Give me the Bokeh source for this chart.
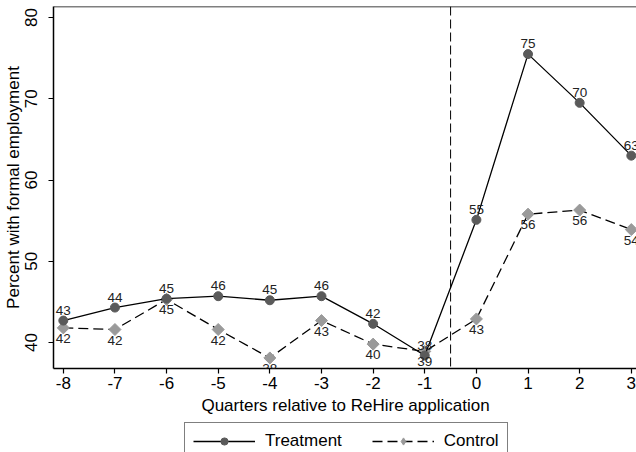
import numpy as np
from bokeh.plotting import figure
from bokeh.layouts import column
from bokeh.models import (Range1d, Span, Legend, LegendItem, ColumnDataSource,
                          FixedTicker, LabelSet)
from bokeh.core.properties import value
from bokeh.embed import file_html
from bokeh.resources import INLINE

quarters = [-8, -7, -6, -5, -4, -3, -2, -1, 0, 1, 2, 3]
treatment = [42.7, 44.3, 45.4, 45.7, 45.2, 45.7, 42.3, 38.4, 55.1, 75.5, 69.5, 63.0]
control = [41.8, 41.6, 45.3, 41.6, 38.1, 42.7, 39.8, 38.9, 42.9, 55.8, 56.3, 53.9]
treatment_labels = ["43", "44", "45", "46", "45", "46", "42", "38", "55", "75", "70", "63"]
control_labels = ["42", "42", "45", "42", "38", "43", "40", "39", "43", "56", "56", "54"]
x_ticks = [-8, -7, -6, -5, -4, -3, -2, -1, 0, 1, 2, 3]
y_ticks = [40, 50, 60, 70, 80]
event_x = -0.5

FONT = "Liberation Sans"
FS = "17px"
T_STYLE = dict(line_color="black", line_width=1.3)
C_STYLE = dict(line_color="black", line_width=1.3, line_dash="10 5")
T_MARK = dict(marker="circle", size=9, fill_color="#5a5a5a", line_color="#5a5a5a")
C_MARK = dict(marker="square", angle=np.pi / 4, size=8.5, fill_color="#9a9a9a",
              line_color="#9a9a9a")

y_lo, y_hi = 36.8, 81.36
p = figure(frame_width=584, frame_height=362, output_backend="svg", toolbar_location=None,
           x_range=Range1d(-8.19, 3.12), y_range=Range1d(y_lo, y_hi),
           min_border_top=6, min_border_right=0, min_border_left=52,
           min_border_bottom=52)
p.outline_line_color = None
p.xgrid.visible = False
p.ygrid.visible = False
p.background_fill_color = "white"

for ax in (p.xaxis[0], p.yaxis[0]):
    ax.axis_line_color = "black"
    ax.axis_line_width = 1.5
    ax.major_tick_line_color = "black"
    ax.major_tick_line_width = 1.2
    ax.major_tick_out = 5
    ax.major_tick_in = 0
    ax.minor_tick_line_color = None
    ax.major_label_text_font = FONT
    ax.major_label_text_font_size = FS
    ax.major_label_text_color = "black"
    ax.axis_label_text_font = FONT
    ax.axis_label_text_font_size = FS
    ax.axis_label_text_font_style = "normal"
    ax.axis_label_text_color = "black"

p.xaxis.major_label_standoff = 3
p.xaxis.axis_label_standoff = 4
p.yaxis.major_label_standoff = 11
p.yaxis.axis_label_standoff = 0

p.xaxis.ticker = FixedTicker(ticks=x_ticks)
p.xaxis.major_label_overrides = {t: str(t) for t in x_ticks}
p.yaxis.ticker = FixedTicker(ticks=y_ticks)
p.yaxis.major_label_overrides = {t: str(t) for t in y_ticks}
p.yaxis.major_label_orientation = "vertical"
p.xaxis.axis_label = "Quarters relative to ReHire application"
p.yaxis.axis_label = "Percent with formal employment"

p.add_layout(Span(location=y_hi, dimension="width", line_color="black", line_width=1.5))
p.add_layout(Span(location=event_x, dimension="height", line_color="black",
                  line_width=1, line_dash="9 4"))

src_t = ColumnDataSource(dict(x=quarters, y=treatment, lab=treatment_labels))
src_c = ColumnDataSource(dict(x=quarters, y=control, lab=control_labels))

p.line("x", "y", source=src_c, **C_STYLE)
p.scatter("x", "y", source=src_c, **C_MARK)
p.line("x", "y", source=src_t, **T_STYLE)
p.scatter("x", "y", source=src_t, **T_MARK)

p.add_layout(LabelSet(x="x", y="y", text="lab", source=src_t, text_align="center",
                      text_baseline="alphabetic", y_offset=6, text_font=value(FONT),
                      text_font_size="13.5px", text_color="#222222"))
p.add_layout(LabelSet(x="x", y="y", text="lab", source=src_c, text_align="center",
                      text_baseline="top", y_offset=-6, text_font=value(FONT),
                      text_font_size="13.5px", text_color="#222222"))

# legend strip below the chart (its series renderers fall outside its view range)
q = figure(width=636, height=32, output_backend="svg", toolbar_location=None,
           x_range=Range1d(0, 1), y_range=Range1d(0, 1),
           x_axis_location=None, y_axis_location=None,
           min_border=0)
q.outline_line_color = None
q.xgrid.visible = False
q.ygrid.visible = False
lt = q.line("x", "y", source=src_t, **T_STYLE)
mt = q.scatter("x", "y", source=src_t, **T_MARK)
lc = q.line("x", "y", source=src_c, **C_STYLE)
mc = q.scatter("x", "y", source=src_c, marker="diamond", size=15,
               fill_color="#9a9a9a", line_color="#9a9a9a")

legend = Legend(items=[LegendItem(label="Treatment", renderers=[lt, mt]),
                       LegendItem(label="Control", renderers=[lc, mc])],
                orientation="horizontal", location=(131, -8),
                border_line_color="black", border_line_width=1,
                label_text_font=FONT, label_text_font_size=FS,
                label_text_color="black",
                glyph_width=62, glyph_height=18, label_standoff=10,
                spacing=30, padding=8, margin=0)
q.add_layout(legend, "center")

layout = column(p, q, spacing=0)
open("out.html", "w").write(file_html(layout, INLINE))
